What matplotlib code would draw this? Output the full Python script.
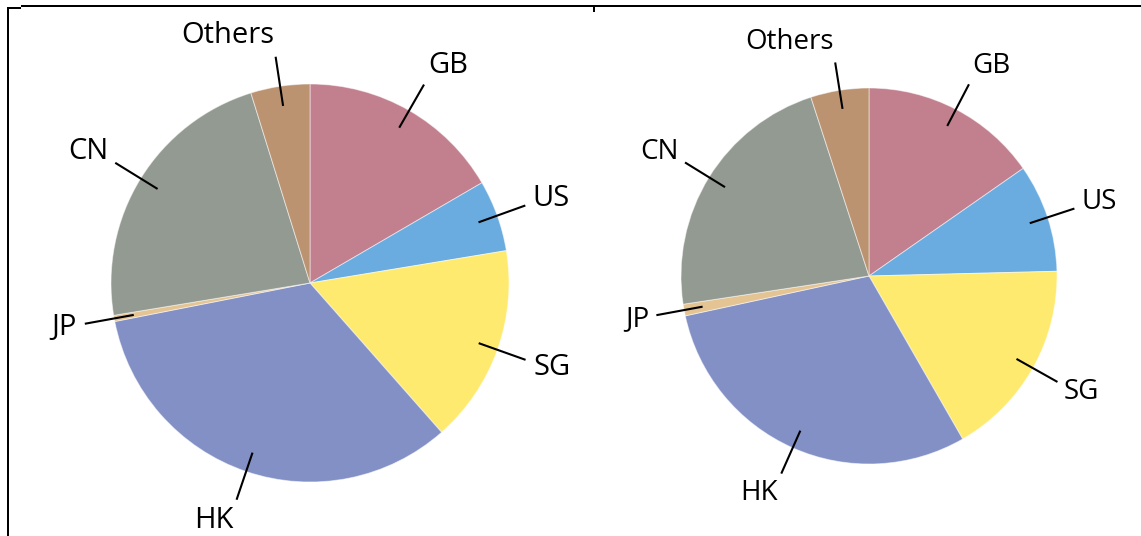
import numpy as np
import matplotlib
matplotlib.use("Agg")
import matplotlib.pyplot as plt
from matplotlib.patches import Rectangle

# ---- data ----
categories = ["GB", "US", "SG", "HK", "JP", "CN", "Others"]
left_values = [16.6, 5.8, 16.1, 33.4, 0.5, 22.8, 4.8]
right_values = [15.3, 9.3, 17.1, 29.9, 1.0, 22.4, 5.0]
colors = ["#c2808f", "#6aace0", "#ffea70", "#8290c6", "#e4c492", "#939a91", "#bb9371"]

plt.rcParams['font.family'] = ['Open Sans', 'DejaVu Sans']

W, H = 1141, 536
fig = plt.figure(figsize=(W / 100, H / 100), dpi=100)
ax = fig.add_axes([0, 0, 1, 1])


def draw_pie(values, center, radius, fontsize):
    wedges, _ = ax.pie(values, colors=colors, startangle=90, counterclock=False,
                       center=center, radius=radius,
                       wedgeprops=dict(edgecolor=(1, 1, 1, 0.5), linewidth=0.7))
    for w, lab in zip(wedges, categories):
        ang = np.deg2rad((w.theta1 + w.theta2) / 2)
        c, s = np.cos(ang), np.sin(ang)
        x0, y0 = center[0] + 0.9 * radius * c, center[1] + 0.9 * radius * s
        x1, y1 = center[0] + 1.15 * radius * c, center[1] + 1.15 * radius * s
        ax.plot([x0, x1], [y0, y1], color="black", lw=1.5, solid_capstyle="butt")
        xt = center[0] + 1.19 * radius * c
        yt = center[1] + 1.2 * radius * s + 0.06 * radius * s
        ax.text(xt, yt, lab, ha="left" if c > 0 else "right", va="center",
                fontsize=fontsize, color="black")


draw_pie(left_values, (310, H - 283), 199, 21)
draw_pie(right_values, (869, H - 276), 188, 20)

# frame fragments (filled bars, pixel units)
for (x, y, w, h) in [(21, H - 7, W + 10 - 21, 2),   # top line
                     (7, H - 9, 14, 2),              # small left step
                     (7, -5, 2, H - 7 + 5),          # left vertical
                     (593, H - 12, 2, 5)]:           # top tick
    ax.add_patch(Rectangle((x, y), w, h, facecolor="black", edgecolor="none",
                           clip_on=False))

ax.set_xlim(0, W)
ax.set_ylim(0, H)
ax.set_aspect("equal")
ax.axis("off")

fig.savefig("out.png", dpi=100)
